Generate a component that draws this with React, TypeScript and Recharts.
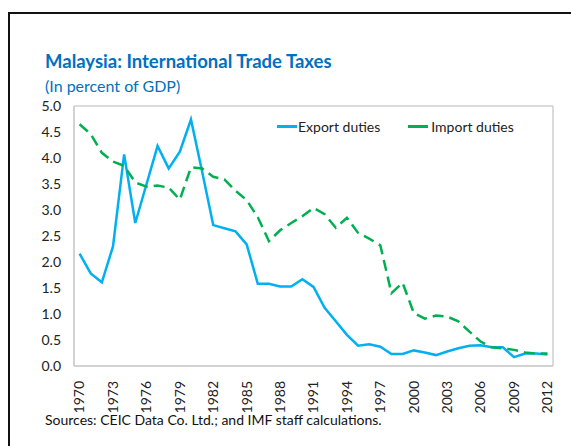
import { LineChart, Line, XAxis, YAxis, Legend, CartesianGrid } from 'recharts';

const years = [
  1970, 1971, 1972, 1973, 1974, 1975, 1976, 1977, 1978, 1979,
  1980, 1981, 1982, 1983, 1984, 1985, 1986, 1987, 1988, 1989,
  1990, 1991, 1992, 1993, 1994, 1995, 1996, 1997, 1998, 1999,
  2000, 2001, 2002, 2003, 2004, 2005, 2006, 2007, 2008, 2009,
  2010, 2011, 2012,
];

const exportDuties = [
  2.16, 1.78, 1.61, 2.3, 4.07, 2.75, 3.49, 4.23, 3.8, 4.12,
  4.74, 3.74, 2.71, 2.65, 2.59, 2.34, 1.58, 1.58, 1.53, 1.53,
  1.67, 1.52, 1.12, 0.86, 0.6, 0.39, 0.42, 0.37, 0.23, 0.23,
  0.3, 0.26, 0.21, 0.28, 0.34, 0.39, 0.4, 0.36, 0.36, 0.17,
  0.24, 0.24, 0.22,
];

const importDuties = [
  4.65, 4.46, 4.1, 3.93, 3.85, 3.53, 3.45, 3.47, 3.43, 3.2,
  3.82, 3.8, 3.64, 3.59, 3.37, 3.19, 2.86, 2.4, 2.61, 2.75,
  2.88, 3.04, 2.92, 2.66, 2.85, 2.56, 2.45, 2.32, 1.4, 1.6,
  1.02, 0.91, 0.97, 0.95, 0.86, 0.66, 0.47, 0.36, 0.34, 0.31,
  0.26, 0.24, 0.24,
];

const xTicks = [1970, 1973, 1976, 1979, 1982, 1985, 1988, 1991, 1994, 1997, 2000, 2003, 2006, 2009, 2012];
const yTicks = [0, 0.5, 1, 1.5, 2, 2.5, 3, 3.5, 4, 4.5, 5];

const data = years.map((year, i) => ({
  year,
  exp: exportDuties[i],
  imp: importDuties[i],
}));

const FONT = 'Lato, "DejaVu Sans", sans-serif';
const EXPORT_COLOR = '#00B0F0';
const IMPORT_COLOR = '#00B050';
const FRAME_COLOR = '#CFCFCF';

function YearTick({ x, y, payload }: any) {
  return (
    <g transform={`translate(${x},${y})`}>
      <text
        transform="rotate(-90)"
        x={-7}
        y={0}
        dy="0.35em"
        textAnchor="end"
        fontSize={14}
        fontFamily={FONT}
        fill="#222"
      >
        {payload.value}
      </text>
    </g>
  );
}

function LegendBox() {
  const items = [
    { label: 'Export duties', color: EXPORT_COLOR },
    { label: 'Import duties', color: IMPORT_COLOR },
  ];
  return (
    <div style={{ display: 'flex', alignItems: 'center', fontFamily: FONT, fontSize: 14, color: '#222', whiteSpace: 'nowrap' }}>
      {items.map((it, i) => (
        <div key={it.label} style={{ display: 'flex', alignItems: 'center', marginRight: i === 0 ? 28 : 0 }}>
          <div style={{ width: 20, height: 3, background: it.color, marginRight: i === 0 ? 1 : 3 }} />
          <span>{it.label}</span>
        </div>
      ))}
    </div>
  );
}

export default function App() {
  return (
    <div style={{ position: 'absolute', left: 0, top: 0, width: 571, height: 446, background: '#fff', overflow: 'hidden' }}>
      <div style={{ position: 'absolute', left: 8, top: 12, right: -5, bottom: -5, borderTop: '2px solid #111', borderLeft: '2px solid #111' }} />
      <div style={{ position: 'absolute', left: 45, top: 50, fontFamily: FONT, fontWeight: 700, fontSize: 18.5, color: '#0070C0' }}>
        Malaysia: International Trade Taxes
      </div>
      <div style={{ position: 'absolute', left: 45, top: 76, fontFamily: FONT, fontSize: 16, color: '#0070C0' }}>
        (In percent of GDP)
      </div>
      <div style={{ position: 'absolute', left: 45, top: 411, fontFamily: FONT, fontSize: 14, color: '#111' }}>
        Sources: CEIC Data Co. Ltd.; and IMF staff calculations.
      </div>
      <div style={{ position: 'absolute', left: 0, top: 0 }}>
        <LineChart width={571} height={446} data={data} margin={{ top: 106, right: 18, bottom: 35, left: 34 }}>
          {/* plot frame: outer grid lines only */}
          <CartesianGrid
            stroke={FRAME_COLOR}
            strokeWidth={1.5}
            horizontalPoints={[106, 366]}
            verticalPoints={[74, 553]}
          />
          <XAxis
            dataKey="year"
            type="number"
            domain={[1969.5, 2012.5]}
            ticks={xTicks}
            interval={0}
            axisLine={{ stroke: FRAME_COLOR, strokeWidth: 1.5 }}
            tickLine={false}
            tick={<YearTick />}
            height={45}
          />
          <YAxis
            type="number"
            domain={[0, 5]}
            ticks={yTicks}
            interval={0}
            axisLine={{ stroke: FRAME_COLOR, strokeWidth: 1.5 }}
            tickLine={false}
            tickMargin={7}
            width={40}
            tickFormatter={(v: number) => v.toFixed(1)}
            tick={{ fontSize: 14, fontFamily: FONT, fill: '#222' }}
          />
          <Legend
            layout="horizontal"
            verticalAlign="middle"
            content={<LegendBox />}
            wrapperStyle={{ position: 'absolute', top: 118, left: 277, width: 'auto' }}
          />
          <Line
            type="linear"
            dataKey="exp"
            name="Export duties"
            stroke={EXPORT_COLOR}
            strokeWidth={2.5}
            dot={false}
            isAnimationActive={false}
          />
          <Line
            type="linear"
            dataKey="imp"
            name="Import duties"
            stroke={IMPORT_COLOR}
            strokeWidth={2.5}
            strokeDasharray="11 6"
            dot={false}
            isAnimationActive={false}
          />
        </LineChart>
      </div>
    </div>
  );
}
